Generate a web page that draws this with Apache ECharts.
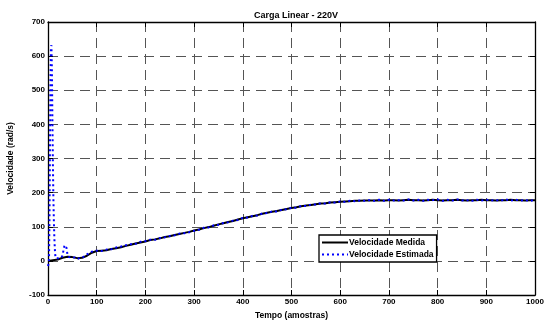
<!DOCTYPE html>
<html>
<head>
<meta charset="utf-8">
<script src="https://cdn.jsdelivr.net/npm/echarts@6/dist/echarts.min.js"></script>
<style>
  html, body { margin: 0; padding: 0; background: #fff; }
  #chart { width: 550px; height: 323px; }
</style>
</head>
<body>
<div id="chart"></div>
<script>
// Sample index (amostras) and measured speed (rad/s)
const measuredT = [0,10,20,30,40,50,60,70,80,90,100,110,120,130,140,150,160,170,180,190,200,
  210,220,230,240,250,260,270,280,290,300,310,320,330,340,350,360,370,380,390,400,
  410,420,430,440,450,460,470,480,490,500,510,520,530,540,550,560,570,580,590,600,
  610,620,630,640,650,660,670,680,690,700,710,720,730,740,750,760,770,780,790,800,
  810,820,830,840,850,860,870,880,890,900,910,920,930,940,950,960,970,980,990,1000];
const measuredV = [0,2,4,9,12,11,8,9,15,24,29,30,31,35,37,40,44,47,51,54,57,
  61,63,66,70,72,76,79,82,85,89,92,96,99,103,107,110,114,117,121,125,
  128,131,134,138,141,144,146,149,152,155,157,160,162,164,166,168,169,171,172,173,
  174,175,176,176,177,177,177,178,177,178,178,177,178,179,178,178,177,178,179,178,
  177,178,178,179,178,177,178,178,179,178,178,177,178,178,179,178,178,177,178,178];

// Sample index and observer-estimated speed (rad/s)
const estimatedT = [0,1,2,3,4,5,6,7,8,9,10,11,12,13,14,15,16,18,20,22,24,26,28,30,32,34,36,38,40,
  42,44,46,48,50,55,60,65,70,75,80,85,90,95,100,110,120,130,140,150,160,170,180,190,200,
  210,220,230,240,250,260,270,280,290,300,310,320,330,340,350,360,370,380,390,400,
  410,420,430,440,450,460,470,480,490,500,510,520,530,540,550,560,570,580,590,600,
  610,620,630,640,650,660,670,680,690,700,710,720,730,740,750,760,770,780,790,800,
  810,820,830,840,850,860,870,880,890,900,910,920,930,940,950,960,970,980,990,1000];
const estimatedV = [-15,-18,-5,120,330,520,625,632,560,420,290,190,120,70,35,15,8,5,6,8,9,8,10,18,32,46,48,38,18,
  12,10,12,9,8,10,6,8,9,14,19,23,27,29,30,29,33,34,39,42,46,49,50,56,58,
  62,62,67,69,73,75,80,81,84,88,91,97,98,104,106,111,113,118,120,126,
  127,132,133,139,140,145,145,150,151,156,156,161,161,165,165,169,168,172,171,174,
  173,176,175,177,176,178,176,179,176,179,177,178,177,180,177,179,176,179,178,180,
  176,179,177,180,177,178,176,179,177,179,177,178,177,180,177,179,177,178,176,179];

// Axis ticks
const xTicks = { min: 0, max: 1000, step: 100 };
const yTicks = { min: -100, max: 700, step: 100 };

const measured = measuredT.map((t, i) => [t, measuredV[i]]);
const estimated = estimatedT.map((t, i) => [t, estimatedV[i]]);

const FONT = 'Liberation Sans';
const gridDash = { color: '#555', width: 1, type: [10, 6] };

const chart = echarts.init(document.getElementById('chart'), null, { renderer: 'canvas' });

function boxAxis(base, position) {
  return Object.assign({
    type: 'value',
    position: position,
    axisLine: { show: true, onZero: false, lineStyle: { color: '#000', width: 1.3 } },
    axisTick: { show: true, inside: true, length: 5, lineStyle: { color: '#000', width: 1 } },
    axisLabel: { show: false },
    splitLine: { show: false }
  }, base);
}

chart.setOption({
  animation: false,
  backgroundColor: '#fff',
  title: {
    text: 'Carga Linear - 220V',
    left: 291, textAlign: 'center', top: 6,
    textStyle: { fontFamily: FONT, fontSize: 9, fontWeight: 'bold', color: '#000' }
  },
  grid: { left: 48, right: 15, top: 22, bottom: 28, containLabel: false, outerBoundsMode: 'none' },
  legend: {
    left: 319, top: 235,
    orient: 'vertical',
    itemWidth: 26, itemHeight: 8, itemGap: 3,
    padding: [3, 3, 3, 2],
    borderColor: '#000', borderWidth: 1.3, backgroundColor: '#fff',
    itemStyle: { opacity: 0 },
    textStyle: { fontFamily: FONT, fontSize: 8.5, fontWeight: 'bold', color: '#000', padding: [0, 0, 0, -4] },
    data: ['Velocidade Medida', 'Velocidade Estimada']
  },
  xAxis: [
    {
      type: 'value', min: xTicks.min, max: xTicks.max, interval: xTicks.step,
      name: 'Tempo (amostras)', nameLocation: 'middle', nameGap: 12,
      nameTextStyle: { fontFamily: FONT, fontSize: 8.5, fontWeight: 'bold', color: '#000' },
      axisLine: { show: true, onZero: false, lineStyle: { color: '#000', width: 1.3 } },
      axisTick: { show: true, inside: true, length: 5, lineStyle: { color: '#000' } },
      axisLabel: { fontFamily: FONT, fontSize: 8, fontWeight: 'bold', color: '#000', margin: 3,
        formatter: v => String(v) },
      splitLine: { show: true, lineStyle: gridDash }
    },
    boxAxis({ min: xTicks.min, max: xTicks.max, interval: xTicks.step }, 'top')
  ],
  yAxis: [
    {
      type: 'value', min: yTicks.min, max: yTicks.max, interval: yTicks.step,
      name: 'Velocidade (rad/s)', nameLocation: 'middle', nameGap: 33,
      nameTextStyle: { fontFamily: FONT, fontSize: 8.5, fontWeight: 'bold', color: '#000' },
      axisLine: { show: true, onZero: false, lineStyle: { color: '#000', width: 1.3 } },
      axisTick: { show: true, inside: true, length: 5, lineStyle: { color: '#000' } },
      axisLabel: { fontFamily: FONT, fontSize: 8, fontWeight: 'bold', color: '#000', margin: 3,
        formatter: v => String(v) },
      splitLine: { show: true, lineStyle: gridDash }
    },
    boxAxis({ min: yTicks.min, max: yTicks.max, interval: yTicks.step }, 'right')
  ],
  series: [
    {
      name: 'Velocidade Medida', type: 'line', data: measured,
      showSymbol: false, symbol: 'none',
      lineStyle: { color: '#000', width: 2 },
      itemStyle: { color: '#000' }
    },
    {
      name: 'Velocidade Estimada', type: 'line', data: estimated,
      showSymbol: false, symbol: 'none',
      lineStyle: { color: '#0000ff', width: 2, type: [2, 3] },
      itemStyle: { color: '#0000ff' }
    }
  ]
});
</script>
</body>
</html>
